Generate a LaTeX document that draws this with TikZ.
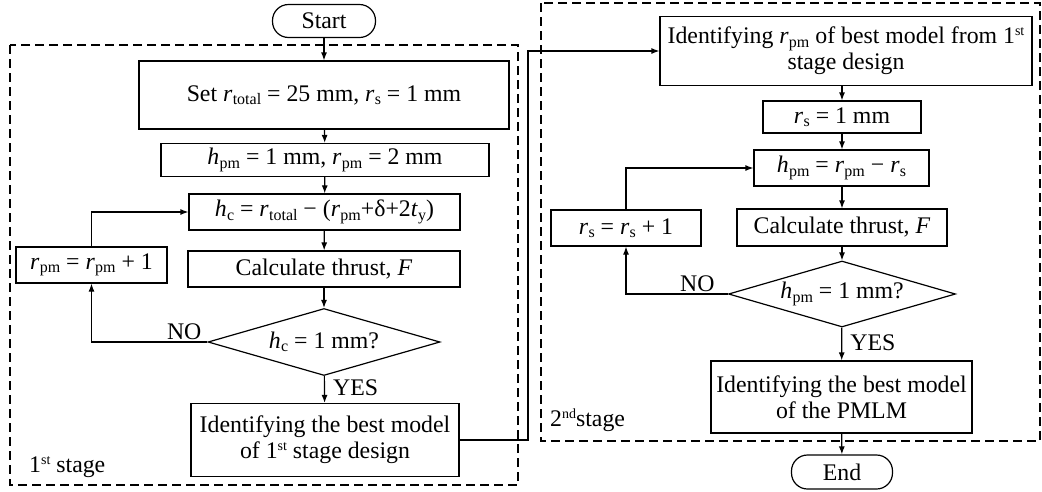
\documentclass[tikz,border=0pt]{standalone}
\usepackage{fontspec}
\setmainfont{Liberation Serif}
\usetikzlibrary{shapes.geometric,arrows.meta}
\newcommand{\vv}[2]{\textit{#1}\kern0.3pt\raisebox{-0.3ex}{\fontsize{16}{16}\selectfont #2}}
\newcommand{\supx}[1]{\raisebox{0.75ex}{\fontsize{14}{14}\selectfont #1}}
\begin{document}
\begin{tikzpicture}[x=1pt,y=-1pt,
  font=\fontsize{23.8}{26}\selectfont,
  box/.style={draw,line width=1.2pt,inner sep=0pt,align=center},
  term/.style={draw,line width=1.2pt,rounded corners=16pt,inner sep=0pt},
  dec/.style={draw,line width=1.2pt,diamond,aspect=3.45,inner sep=0pt},
  arr/.style={line width=1.2pt,-{Latex[length=8pt,width=6pt]}},
  ln/.style={line width=1.2pt},
  stagebox/.style={draw,line width=1.2pt,dash pattern=on 9pt off 5pt},
  lbl/.style={inner sep=0pt}]
\useasboundingbox (0,0) rectangle (1042,491);
% stage boxes
\draw[stagebox] (10,45) rectangle (518,485);
\draw[stagebox] (541,3) rectangle (1040,441);
\node[lbl,anchor=west] (s1) at (29,467) {1\supx{st} stage};
\node[lbl,anchor=west] (s2) at (550,420) {2\supx{nd}stage};
% first stage
\node[term,minimum width=103pt,minimum height=33pt] (start) at (324,21) {Start};
\node[box,minimum width=370pt,minimum height=68pt] (set) at (324,95) {Set \vv{r}{total} = 25 mm, \vv{r}{s} = 1 mm};
\node[box,minimum width=328pt,minimum height=33pt] (hpm) at (325,160) {\vv{h}{pm} = 1 mm, \vv{r}{pm} = 2 mm};
\node[box,minimum width=271pt,minimum height=36pt] (hc) at (324.5,212) {\vv{h}{c} = \vv{r}{total} − (\vv{r}{pm}+δ+2\vv{t}{y})};
\node[box,minimum width=272pt,minimum height=36pt] (calc) at (324,269) {Calculate thrust, \textit{F}};
\node[box,minimum width=151pt,minimum height=36pt] (rpm) at (91.5,265) {\vv{r}{pm} = \vv{r}{pm} + 1};
\node[dec,minimum width=232pt,minimum height=67pt] (d1) at (324,342) {\vv{h}{c} = 1 mm?};
\node[box,minimum width=268pt,minimum height=73pt] (id1) at (325,440) {Identifying the best model\\of 1\supx{st} stage design};
% second stage
\node[box,minimum width=372pt,minimum height=69pt] (id2) at (846,51) {Identifying \vv{r}{pm} of best model from 1\supx{st}\\stage design};
\node[box,minimum width=158pt,minimum height=32pt] (rs) at (842,117) {\vv{r}{s} = 1 mm};
\node[box,minimum width=175pt,minimum height=36pt] (hpm2) at (841.5,168) {\vv{h}{pm} = \vv{r}{pm} − \vv{r}{s}};
\node[box,minimum width=210pt,minimum height=37pt] (calc2) at (842,227.5) {Calculate thrust, \textit{F}};
\node[box,minimum width=150pt,minimum height=36pt] (rsp) at (626,228) {\vv{r}{s} = \vv{r}{s} + 1};
\node[dec,minimum width=227pt,minimum height=66pt] (d2) at (842,294) {\vv{h}{pm} = 1 mm?};
\node[box,minimum width=261pt,minimum height=72pt] (id3) at (841.5,397) {Identifying the best model\\of the PMLM};
\node[term,minimum width=101pt,minimum height=34pt] (end) at (842,472) {End};
% connectors stage 1
\draw[arr] (start) -- (set);
\draw[arr] (set) -- (hpm);
\draw[arr] (hpm) -- (hc);
\draw[arr] (hc) -- (calc);
\draw[arr] (calc) -- (d1);
\draw[arr] (d1) -- node[lbl,right=8pt,pos=0.45] (yes1) {YES} (id1);
\draw[arr] (d1.west) -- node[lbl,above=2pt,pos=0.2] (no1) {NO} (d1.west -| rpm.south) -- (rpm.south);
\draw[arr] (rpm.north) |- (hc.west);
% link
\coordinate (j1) at (528,51);
\draw[arr] (id1.east) -| (j1) -- (id2.west);
% connectors stage 2
\draw[arr] (id2.south -| rs.north) -- (rs.north);
\draw[arr] (rs) -- (hpm2.north -| rs.south);
\draw[arr] (hpm2.south -| calc2.north) -- (calc2.north);
\draw[arr] (calc2) -- (d2);
\draw[arr] (d2) -- node[lbl,right=8pt,pos=0.45] (yes2) {YES} (id3);
\draw[arr] (d2.west) -- node[lbl,above=2pt,pos=0.3] (no2) {NO} (d2.west -| rsp.south) -- (rsp.south);
\draw[arr] (rsp.north) |- (hpm2.west);
\draw[arr] (id3) -- (end);
\end{tikzpicture}
\end{document}
